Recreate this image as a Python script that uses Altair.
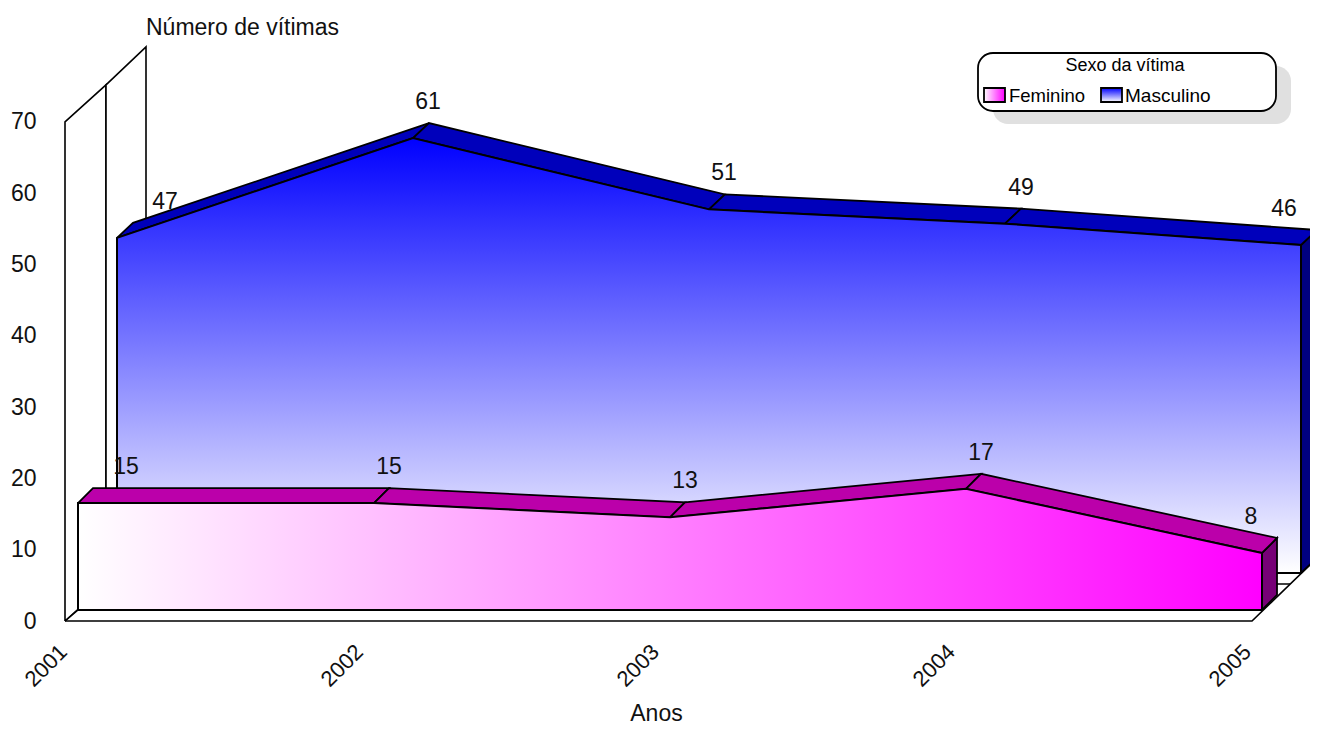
import altair as alt
import pandas as pd

anos = [2001, 2002, 2003, 2004, 2005]
feminino = [15, 15, 13, 17, 8]
masculino = [47, 61, 51, 49, 46]

FONT = "Liberation Sans"
TXT = "#111111"
XS = 296.0    # px per year
YS = 7.13     # px per victim
LEFT, TOP = 65, 8
W, H = 1245, 613
FS = 23


def dx(px):
    return px / XS


def dy(px):
    return px / YS


xenc = alt.X("x:Q", scale=alt.Scale(domain=[2001, 2001 + W / XS], nice=False, zero=False),
             axis=alt.Axis(values=anos, format="d", domain=False, ticks=False, grid=False,
                           labelAngle=-45, labelAlign="right", labelBaseline="middle",
                           labelPadding=27, labelOffset=-2, labelFont=FONT, labelFontSize=22, labelColor=TXT,
                           title="Anos", titleFont=FONT, titleFontSize=FS, titleFontWeight="normal",
                           titleColor=TXT, titleX=591, titleY=92, titleAlign="center",
                           titleBaseline="middle"))
yenc = alt.Y("y:Q", scale=alt.Scale(domain=[0, H / YS], nice=False, zero=True),
             axis=alt.Axis(values=list(range(0, 71, 10)), domain=False, ticks=False, grid=False,
                           labelPadding=29, labelFont=FONT, labelFontSize=FS, labelColor=TXT,
                           title="Número de vítimas", titleFont=FONT, titleFontSize=FS,
                           titleFontWeight="normal", titleColor=TXT, titleAngle=0,
                           titleX=177, titleY=19, titleAlign="center", titleBaseline="middle"))


def polys(rows):
    """rows: list of polygons, each a list of (data x, data y)."""
    out = []
    for pid, pts in enumerate(rows):
        for k, (x, y) in enumerate(list(pts) + [pts[0]]):
            out.append({"pid": pid, "k": k, "x": x, "y": y})
    return pd.DataFrame(out)


def polygon_layer(rows, fill, sw=1.8):
    return alt.Chart(polys(rows)).mark_line(fill=fill, stroke="black", strokeWidth=sw,
                                            strokeJoin="miter", clip=False).encode(
        x=xenc, y=yenc, detail="pid:N", order="k:Q")


def ribbon(vals, d0x, d0y, d1x, d1y):
    segs = []
    for i in range(len(vals) - 1):
        a, b = anos[i], anos[i + 1]
        va, vb = vals[i], vals[i + 1]
        segs.append([(a + dx(d0x), va + dy(d0y)), (b + dx(d0x), vb + dy(d0y)),
                     (b + dx(d1x), vb + dy(d1y)), (a + dx(d1x), va + dy(d1y))])
    return segs


def side(vals, d0x, d0y, d1x, d1y):
    a, v = anos[-1], vals[-1]
    return [[(a + dx(d0x), dy(d0y)), (a + dx(d0x), v + dy(d0y)),
             (a + dx(d1x), v + dy(d1y)), (a + dx(d1x), dy(d1y))]]


def front(vals, d0x, d0y, grad):
    df = pd.DataFrame({"x": [a + dx(d0x) for a in anos],
                       "y": [v + dy(d0y) for v in vals],
                       "y0": [dy(d0y)] * len(vals)})
    return alt.Chart(df).mark_area(fill=grad, stroke="black", strokeWidth=2, clip=False).encode(
        x=xenc, y=yenc, y2="y0:Q")


def labels(vals, d0x, d0y, shifts):
    df = pd.DataFrame({"x": [a + dx(d0x + s) for a, s in zip(anos, shifts)],
                       "y": [v + dy(d0y + 36) for v in vals],
                       "t": [str(v) for v in vals]})
    return alt.Chart(df).mark_text(font=FONT, fontSize=FS, color=TXT, align="center",
                                   baseline="middle").encode(x=xenc, y=yenc, text="t:N")


# Depths in px: (right, up) from the front floor corner
F0, F1 = (13, 11), (28, 26)
M0, M1 = (52, 48), (68, 63)

walls = polygon_layer([
    [(2001, 0), (2001, 70), (2001 + dx(41), 70 + dy(37)), (2001 + dx(41), dy(37))],
    [(2001 + dx(41), dy(37)), (2001 + dx(41), 70 + dy(37)), (2001 + dx(81), 70 + dy(75)), (2001 + dx(81), dy(75))],
], "white", 1.6)


def line(pts):
    df = pd.DataFrame([{"k": k, "x": x, "y": y} for k, (x, y) in enumerate(pts)])
    return alt.Chart(df).mark_line(color="black", strokeWidth=1.6, clip=False).encode(
        x=xenc, y=yenc, order="k:Q")


floor_lines = [
    line([(2001, 0), (2005 + dx(3), 0), (2005 + dx(68), dy(63))]),
    line([(2001, 0), (2001 + dx(F0[0]), dy(F0[1]))]),
    line([(2001 + dx(F0[0]), dy(F0[1])), (2005 + dx(14), dy(F0[1]))]),
    line([(2001 + dx(41), dy(37)), (2005 + dx(41), dy(37))]),
    line([(2001 + dx(M0[0]), dy(M0[1])), (2005 + dx(M0[0]), dy(M0[1]))]),
]

pink = alt.Gradient(gradient="linear", x1=0, y1=0, x2=1, y2=0,
                    stops=[alt.GradientStop(color="#ffffff", offset=0),
                           alt.GradientStop(color="#ff00ff", offset=1)])
blue = alt.Gradient(gradient="linear", x1=0, y1=0, x2=0, y2=1,
                    stops=[alt.GradientStop(color="#0000ff", offset=0),
                           alt.GradientStop(color="#ffffff", offset=1)])

# Legend panel (pixels inside the plot group)
def px_rect(x0, y0, x1, y1, fill, stroke=None, radius=0, sw=1.8):
    kw = dict(fill=fill, cornerRadius=radius)
    if stroke:
        kw.update(stroke=stroke, strokeWidth=sw)
    return alt.Chart(pd.DataFrame({"a": [0]})).mark_rect(**kw).encode(
        x=alt.value(x0 - LEFT), x2=alt.value(x1 - LEFT),
        y=alt.value(y0 - TOP), y2=alt.value(y1 - TOP))


def px_text(t, x, y, align, size=18.5):
    return alt.Chart(pd.DataFrame({"t": [t]})).mark_text(
        font=FONT, fontSize=size, color="#000000", align=align, baseline="middle").encode(
        x=alt.value(x - LEFT), y=alt.value(y - TOP), text="t:N")


legend = [
    px_rect(993, 66, 1291, 124, "#e0e0e0", radius=15),
    px_rect(978, 53, 1276, 111, "#ffffff", "black", 15),
    px_text("Sexo da vítima", 1125, 66, "center", 18),
    px_rect(984, 88, 1005, 102, pink, "black"),
    px_text("Feminino", 1009, 96, "left"),
    px_rect(1101, 88, 1122, 102, blue, "black"),
    px_text("Masculino", 1125, 96, "left", 19),
]

layers = [walls] + floor_lines + [
    polygon_layer(side(masculino, M0[0], M0[1], M1[0], M1[1]), "#000080"),
    polygon_layer(ribbon(masculino, M0[0], M0[1], M1[0], M1[1]), "#0000bb"),
    front(masculino, M0[0], M0[1], blue),
    labels(masculino, M0[0], M0[1], [48, 15, 15, 16, -17]),
    polygon_layer(side(feminino, F0[0], F0[1], F1[0], F1[1]), "#770077"),
    polygon_layer(ribbon(feminino, F0[0], F0[1], F1[0], F1[1]), "#bb00aa"),
    front(feminino, F0[0], F0[1], pink),
    labels(feminino, F0[0], F0[1], [48, 15, 15, 15, -11]),
] + legend

chart = alt.layer(*layers).properties(
    width=W, height=H, background="white",
    padding={"left": LEFT - 8, "top": 0, "right": 0, "bottom": 105},
    autosize=alt.AutoSizeParams(type="none", contains="content"),
).configure_view(stroke=None)

chart.save("out.html", embed_options={"renderer": "svg", "actions": False})
